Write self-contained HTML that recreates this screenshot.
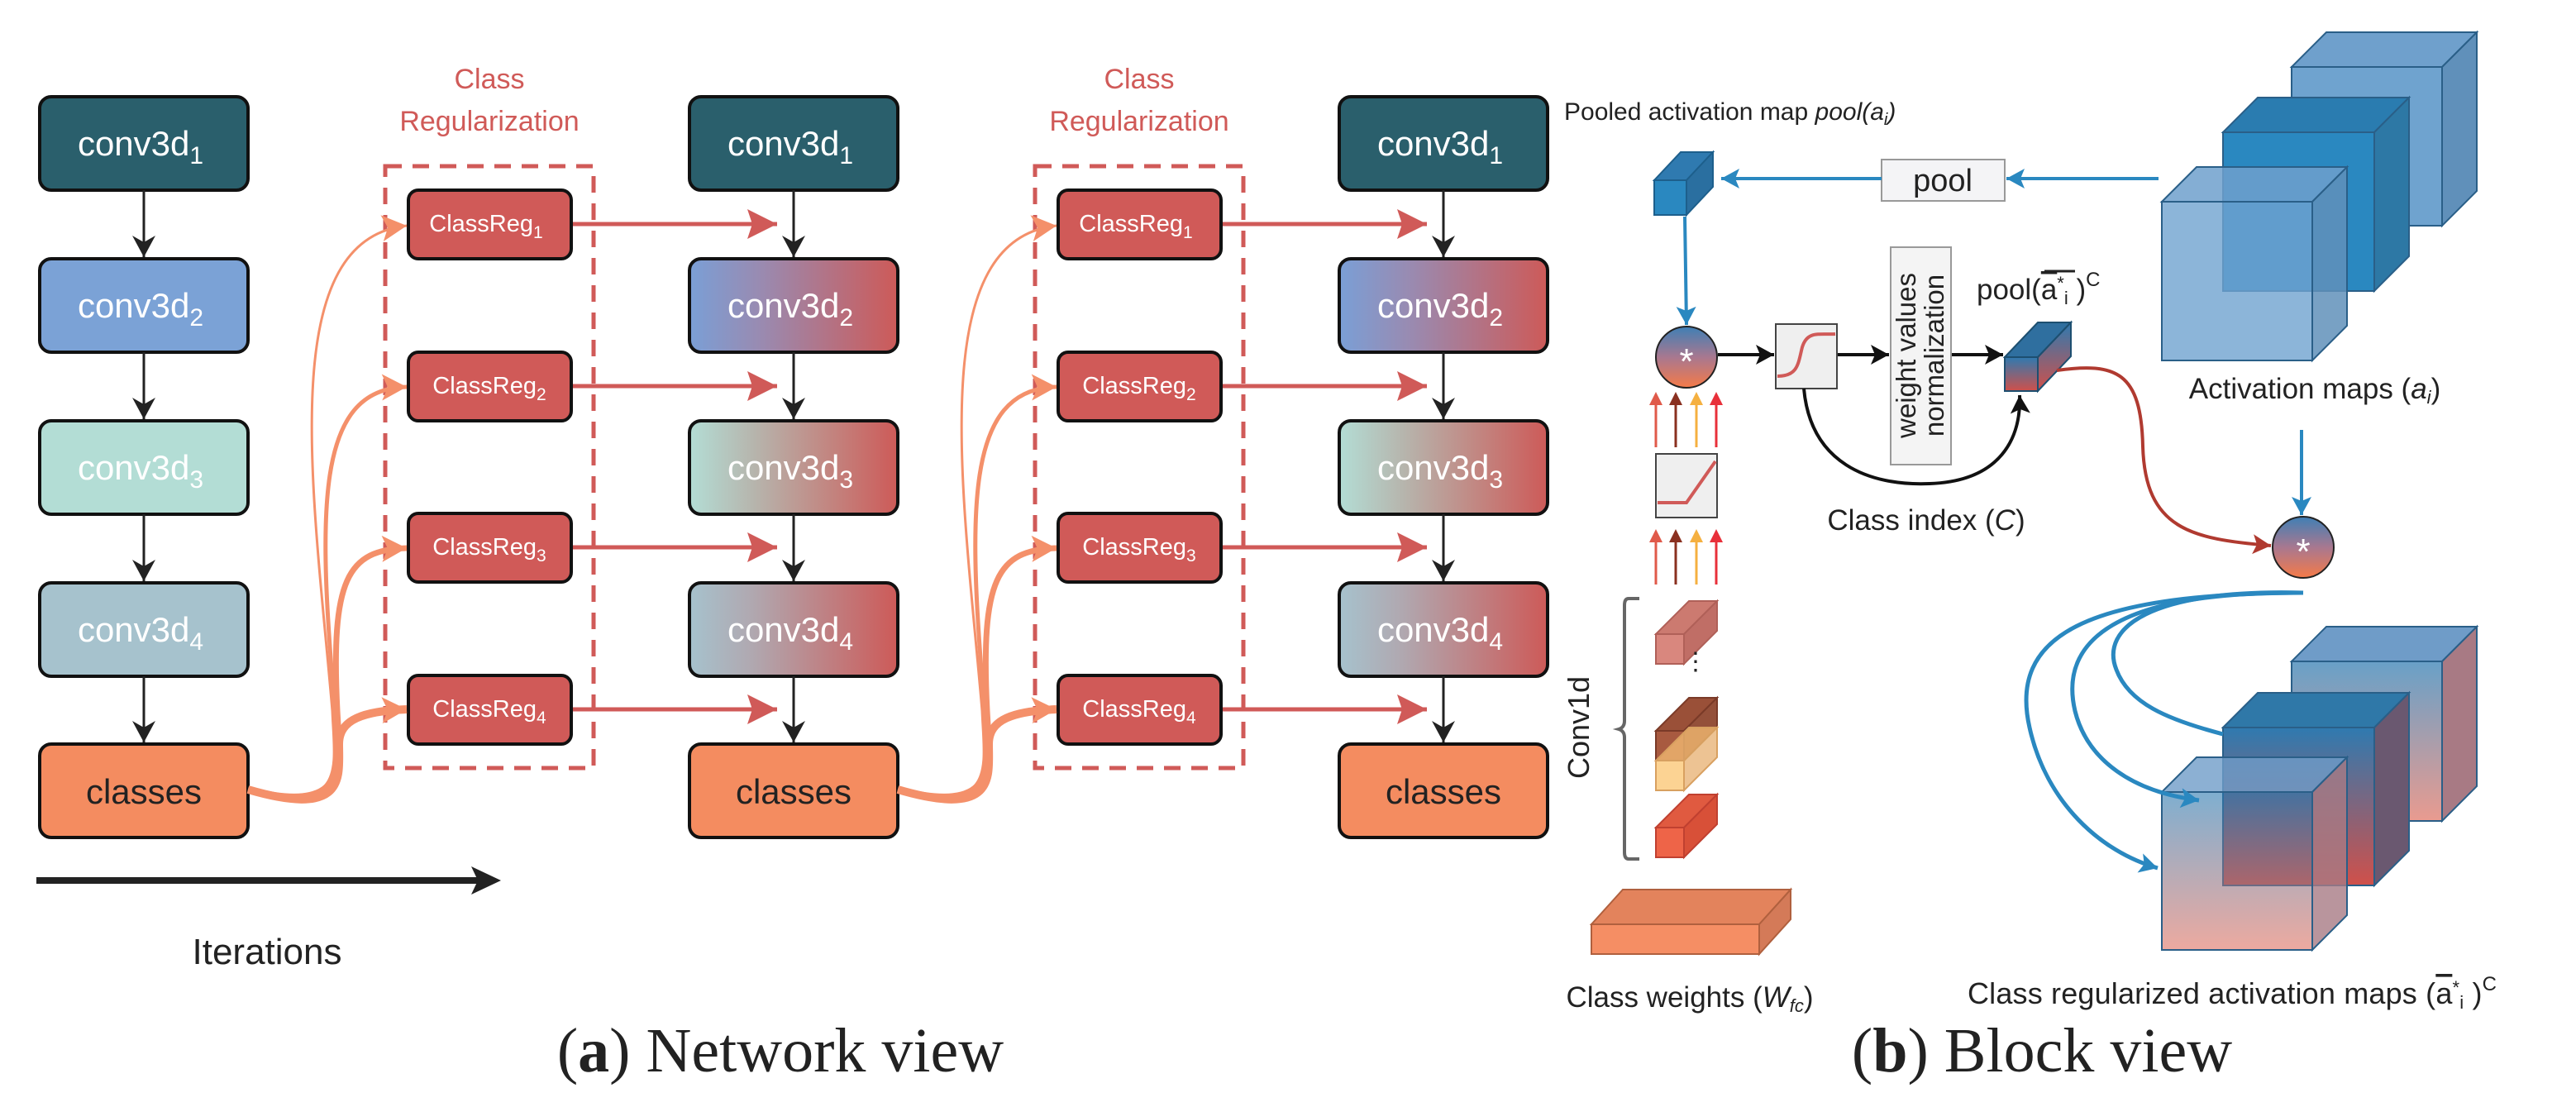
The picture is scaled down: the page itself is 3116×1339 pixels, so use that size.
<!DOCTYPE html>
<html><head><meta charset="utf-8"><style>
html,body{margin:0;padding:0;background:#fff;}
svg{display:block;}
text{font-family:"Liberation Sans",sans-serif;}
</style></head><body>
<svg width="3116" height="1339" viewBox="0 0 3116 1339" xmlns="http://www.w3.org/2000/svg">
<defs>
 <linearGradient id="g2" x1="0" x2="1" y1="0" y2="0"><stop offset="0" stop-color="#7a9fd6"/><stop offset="0.35" stop-color="#9a8ab0"/><stop offset="1" stop-color="#cd5a58"/></linearGradient>
 <linearGradient id="g3" x1="0" x2="1" y1="0" y2="0"><stop offset="0" stop-color="#b3ddd5"/><stop offset="0.3" stop-color="#b6b6ae"/><stop offset="1" stop-color="#cd5a58"/></linearGradient>
 <linearGradient id="g4" x1="0" x2="1" y1="0" y2="0"><stop offset="0" stop-color="#a6c2cd"/><stop offset="0.3" stop-color="#b0a8b0"/><stop offset="1" stop-color="#cd5a58"/></linearGradient>
 <linearGradient id="gc" x1="0" x2="0" y1="0" y2="1"><stop offset="0" stop-color="#3f7fb5"/><stop offset="0.5" stop-color="#a87890"/><stop offset="1" stop-color="#f57a48"/></linearGradient>
 <linearGradient id="gcube" x1="0" x2="0" y1="0" y2="1"><stop offset="0" stop-color="#2f7ab0"/><stop offset="1" stop-color="#d0504a"/></linearGradient>
 <linearGradient id="gbig" x1="0" x2="0" y1="0" y2="1"><stop offset="0" stop-color="#2878b0"/><stop offset="1" stop-color="#e07060"/></linearGradient>
 <marker id="mk" markerUnits="userSpaceOnUse" markerWidth="30" markerHeight="30" refX="26" refY="14" orient="auto"><path d="M0,0 L26,14 L0,28 L8,14 Z" fill="#222"/></marker>
 <marker id="mr" markerUnits="userSpaceOnUse" markerWidth="40" markerHeight="40" refX="36" refY="18" orient="auto"><path d="M0,0 L36,18 L0,36 L6,18 Z" fill="#d05a58"/></marker>
 <marker id="mo" markerUnits="userSpaceOnUse" markerWidth="40" markerHeight="40" refX="30" refY="16" orient="auto"><path d="M0,0 L30,16 L0,32 L7,16 Z" fill="#f4906a"/></marker>
 <marker id="mb" markerUnits="userSpaceOnUse" markerWidth="30" markerHeight="30" refX="22" refY="12" orient="auto"><path d="M0,0 L22,12 L0,24 L5,12 Z" fill="#2a88c0"/></marker>
 <marker id="mdr" markerUnits="userSpaceOnUse" markerWidth="30" markerHeight="30" refX="22" refY="12" orient="auto"><path d="M0,0 L22,12 L0,24 L5,12 Z" fill="#b03a30"/></marker>
 <marker id="mkb" markerUnits="userSpaceOnUse" markerWidth="30" markerHeight="30" refX="22" refY="12" orient="auto"><path d="M0,0 L22,12 L0,24 L5,12 Z" fill="#111"/></marker>
</defs>

<g stroke="#111" stroke-width="4">
 <rect x="48" y="117" width="252" height="113" rx="14" fill="#2a5f6c"/>
 <rect x="48" y="313" width="252" height="113" rx="14" fill="#7ba2d6"/>
 <rect x="48" y="509" width="252" height="113" rx="14" fill="#b3ddd5"/>
 <rect x="48" y="705" width="252" height="113" rx="14" fill="#a6c2cd"/>
 <rect x="48" y="900" width="252" height="113" rx="14" fill="#f48c60"/>
 <rect x="834" y="117" width="252" height="113" rx="14" fill="#2a5f6c"/>
 <rect x="834" y="313" width="252" height="113" rx="14" fill="url(#g2)"/>
 <rect x="834" y="509" width="252" height="113" rx="14" fill="url(#g3)"/>
 <rect x="834" y="705" width="252" height="113" rx="14" fill="url(#g4)"/>
 <rect x="834" y="900" width="252" height="113" rx="14" fill="#f48c60"/>
 <rect x="1620" y="117" width="252" height="113" rx="14" fill="#2a5f6c"/>
 <rect x="1620" y="313" width="252" height="113" rx="14" fill="url(#g2)"/>
 <rect x="1620" y="509" width="252" height="113" rx="14" fill="url(#g3)"/>
 <rect x="1620" y="705" width="252" height="113" rx="14" fill="url(#g4)"/>
 <rect x="1620" y="900" width="252" height="113" rx="14" fill="#f48c60"/>
</g>
<g stroke="#222" stroke-width="3" marker-end="url(#mk)">
 <line x1="174" y1="230" x2="174" y2="311"/><line x1="174" y1="426" x2="174" y2="507"/><line x1="174" y1="622" x2="174" y2="703"/><line x1="174" y1="818" x2="174" y2="898"/>
 <line x1="960" y1="230" x2="960" y2="311"/><line x1="960" y1="426" x2="960" y2="507"/><line x1="960" y1="622" x2="960" y2="703"/><line x1="960" y1="818" x2="960" y2="898"/>
 <line x1="1746" y1="230" x2="1746" y2="311"/><line x1="1746" y1="426" x2="1746" y2="507"/><line x1="1746" y1="622" x2="1746" y2="703"/><line x1="1746" y1="818" x2="1746" y2="898"/>
</g>
<g font-size="42" fill="#fff" text-anchor="middle">
 <text x="170" y="188">conv3d<tspan font-size="30" dy="10">1</tspan></text>
 <text x="170" y="384">conv3d<tspan font-size="30" dy="10">2</tspan></text>
 <text x="170" y="580">conv3d<tspan font-size="30" dy="10">3</tspan></text>
 <text x="170" y="776">conv3d<tspan font-size="30" dy="10">4</tspan></text>
 <text x="174" y="972" fill="#222">classes</text>
 <text x="956" y="188">conv3d<tspan font-size="30" dy="10">1</tspan></text>
 <text x="956" y="384">conv3d<tspan font-size="30" dy="10">2</tspan></text>
 <text x="956" y="580">conv3d<tspan font-size="30" dy="10">3</tspan></text>
 <text x="956" y="776">conv3d<tspan font-size="30" dy="10">4</tspan></text>
 <text x="960" y="972" fill="#222">classes</text>
 <text x="1742" y="188">conv3d<tspan font-size="30" dy="10">1</tspan></text>
 <text x="1742" y="384">conv3d<tspan font-size="30" dy="10">2</tspan></text>
 <text x="1742" y="580">conv3d<tspan font-size="30" dy="10">3</tspan></text>
 <text x="1742" y="776">conv3d<tspan font-size="30" dy="10">4</tspan></text>
 <text x="1746" y="972" fill="#222">classes</text>
</g>

<g id="cr">
 <text x="592" y="107" font-size="34" fill="#d05a58" text-anchor="middle">Class</text>
 <text x="592" y="158" font-size="34" fill="#d05a58" text-anchor="middle">Regularization</text>
 <rect x="466" y="201" width="252" height="728" fill="none" stroke="#d05a58" stroke-width="5" stroke-dasharray="20,13"/>
 <g stroke="#d05a58" stroke-width="5" marker-end="url(#mr)">
  <line x1="690" y1="271" x2="940" y2="271"/>
  <line x1="690" y1="467" x2="940" y2="467"/>
  <line x1="690" y1="662" x2="940" y2="662"/>
  <line x1="690" y1="858" x2="940" y2="858"/>
 </g>
 <g stroke="#111" stroke-width="4" fill="#d05a58">
  <rect x="494" y="230" width="197" height="83" rx="12"/>
  <rect x="494" y="426" width="197" height="83" rx="12"/>
  <rect x="494" y="621" width="197" height="83" rx="12"/>
  <rect x="494" y="817" width="197" height="83" rx="12"/>
 </g>
 <g font-size="29" fill="#fff" text-anchor="middle">
  <text x="588" y="280">ClassReg<tspan font-size="21" dy="8">1</tspan></text>
  <text x="592" y="476">ClassReg<tspan font-size="21" dy="8">2</tspan></text>
  <text x="592" y="671">ClassReg<tspan font-size="21" dy="8">3</tspan></text>
  <text x="592" y="867">ClassReg<tspan font-size="21" dy="8">4</tspan></text>
 </g>
 <g fill="none" stroke="#f4906a">
  <path d="M300,955 C420,985 405,930 402,860 C380,600 330,290 492,273" stroke-width="3" marker-end="url(#mo)"/>
  <path d="M300,955 C420,985 408,930 405,860 C385,620 380,470 492,468" stroke-width="5" marker-end="url(#mo)"/>
  <path d="M300,955 C420,985 412,930 408,860 C400,700 420,665 492,663" stroke-width="7" marker-end="url(#mo)"/>
  <path d="M300,955 C420,990 410,940 410,900 C410,870 440,860 492,858" stroke-width="10" marker-end="url(#mo)"/>
 </g>
</g>
<use href="#cr" transform="translate(786,0)"/>

<line x1="44" y1="1065" x2="580" y2="1065" stroke="#222" stroke-width="8"/>
<path d="M570,1048 L606,1065 L570,1082 L578,1065 Z" fill="#222"/>
<text x="323" y="1166" font-size="44" fill="#222" text-anchor="middle">Iterations</text>

<g font-size="76" fill="#222" text-anchor="middle">
 <text x="944" y="1296" style="font-family:'Liberation Serif',serif">(<tspan font-weight="bold">a</tspan>) Network view</text>
 <text x="2470" y="1296" style="font-family:'Liberation Serif',serif">(<tspan font-weight="bold">b</tspan>) Block view</text>
</g>

<text x="1892" y="145" font-size="30" fill="#222">Pooled activation map <tspan font-style="italic">pool(a<tspan font-size="20" dy="6">i</tspan><tspan dy="-6">)</tspan></tspan></text>
<g stroke="#1d5f8c" stroke-width="2">
 <polygon points="2001,218 2033,184 2072,184 2040,218" fill="#2f7ab0"/>
 <polygon points="2040,218 2072,184 2072,226 2040,260" fill="#2a6fa0"/>
 <rect x="2001" y="218" width="39" height="42" fill="#2a88c0"/>
</g>
<rect x="2276" y="193" width="149" height="50" fill="#f4f4f6" stroke="#999" stroke-width="2"/>
<text x="2350" y="231" font-size="38" fill="#222" text-anchor="middle">pool</text>
<g stroke="#2a88c0" stroke-width="4" fill="none" marker-end="url(#mb)">
 <line x1="2611" y1="216" x2="2427" y2="216"/>
 <line x1="2276" y1="216" x2="2082" y2="216"/>
 <line x1="2038" y1="262" x2="2040" y2="393"/>
 <line x1="2784" y1="520" x2="2784" y2="623"/>
</g>
<g stroke="#2a5f88" stroke-width="2">
 <polygon points="2772,81 2814,39 2996,39 2954,81" fill="#6fa0cc"/>
 <polygon points="2954,81 2996,39 2996,231 2954,273" fill="#6090ba"/>
 <rect x="2772" y="81" width="182" height="192" fill="#6fa3cf"/>
 <polygon points="2689,160 2731,118 2914,118 2872,160" fill="#2a7cb0"/>
 <polygon points="2872,160 2914,118 2914,310 2872,352" fill="#2d78a5"/>
 <rect x="2689" y="160" width="183" height="192" fill="#2a88c0"/>
 <polygon points="2615,244 2657,202 2839,202 2797,244" fill="#6fa0cc" fill-opacity="0.85"/>
 <polygon points="2797,244 2839,202 2839,394 2797,436" fill="#6090ba" fill-opacity="0.85"/>
 <rect x="2615" y="244" width="182" height="192" fill="#6fa3cf" fill-opacity="0.8"/>
</g>
<text x="2800" y="482" font-size="35" fill="#222" text-anchor="middle">Activation maps (<tspan font-style="italic">a<tspan font-size="22" dy="6">i</tspan></tspan><tspan dy="-6">)</tspan></text>
<circle cx="2040" cy="432" r="37" fill="url(#gc)" stroke="#222" stroke-width="2"/>
<text x="2040" y="452" font-size="44" fill="#fff" text-anchor="middle">*</text>
<g stroke="#111" stroke-width="4" marker-end="url(#mkb)">
 <line x1="2078" y1="429" x2="2146" y2="429"/>
 <line x1="2222" y1="429" x2="2285" y2="429"/>
 <line x1="2360" y1="429" x2="2423" y2="429"/>
</g>
<rect x="2148" y="392" width="74" height="78" fill="#efefef" stroke="#444" stroke-width="2"/>
<path d="M2150,455 C2175,455 2175,440 2180,420 C2186,400 2200,405 2220,404" fill="none" stroke="#d05a58" stroke-width="4"/>
<rect x="2287" y="299" width="73" height="263" fill="#f4f4f4" stroke="#999" stroke-width="2"/>
<g font-size="33" fill="#222" text-anchor="middle">
 <text transform="translate(2317,430) rotate(-90)">weight values</text>
 <text transform="translate(2351,430) rotate(-90)">normalization</text>
</g>
<text x="2391" y="362" font-size="35" fill="#222">pool(<tspan text-decoration="overline">a</tspan><tspan font-size="22" dy="-12">*</tspan><tspan font-size="22" dy="18">i</tspan><tspan dy="-6"> )</tspan><tspan font-size="24" dy="-16">C</tspan></text>
<line x1="2473" y1="328" x2="2510" y2="328" stroke="#222" stroke-width="3"/>
<g stroke="#1d4f70" stroke-width="2">
 <polygon points="2425,432 2465,390 2505,390 2465,432" fill="#2f6f9f"/>
 <polygon points="2465,432 2505,390 2505,431 2465,473" fill="url(#gcube)"/>
 <rect x="2425" y="432" width="40" height="41" fill="url(#gcube)"/>
</g>
<path d="M2182,470 C2190,560 2260,588 2334,585 C2420,582 2445,530 2443,478" fill="none" stroke="#111" stroke-width="4" marker-end="url(#mkb)"/>
<text x="2330" y="641" font-size="35" fill="#222" text-anchor="middle">Class index (<tspan font-style="italic">C</tspan>)</text>
<path d="M2488,448 C2560,438 2590,450 2592,540 C2595,640 2650,652 2747,660" fill="none" stroke="#b03a30" stroke-width="4" marker-end="url(#mdr)"/>
<circle cx="2786" cy="662" r="37" fill="url(#gc)" stroke="#222" stroke-width="2"/>
<text x="2786" y="682" font-size="44" fill="#fff" text-anchor="middle">*</text>
<rect x="2003" y="549" width="74" height="77" fill="#efefef" stroke="#444" stroke-width="2"/>
<path d="M2005,608 L2040,608 L2075,558" fill="none" stroke="#d05a58" stroke-width="4"/>
<g stroke-width="3">
 <g><line x1="2003" y1="541" x2="2003" y2="482" stroke="#e05a4a"/><path d="M1995,490 L2003,474 L2011,490Z" fill="#e05a4a"/>
 <line x1="2027" y1="541" x2="2027" y2="482" stroke="#8a3020"/><path d="M2019,490 L2027,474 L2035,490Z" fill="#8a3020"/>
 <line x1="2052" y1="541" x2="2052" y2="482" stroke="#f5b040"/><path d="M2044,490 L2052,474 L2060,490Z" fill="#f5b040"/>
 <line x1="2076" y1="541" x2="2076" y2="482" stroke="#e8303a"/><path d="M2068,490 L2076,474 L2084,490Z" fill="#e8303a"/></g>
 <g transform="translate(0,166)"><line x1="2003" y1="541" x2="2003" y2="482" stroke="#e05a4a"/><path d="M1995,490 L2003,474 L2011,490Z" fill="#e05a4a"/>
 <line x1="2027" y1="541" x2="2027" y2="482" stroke="#8a3020"/><path d="M2019,490 L2027,474 L2035,490Z" fill="#8a3020"/>
 <line x1="2052" y1="541" x2="2052" y2="482" stroke="#f5b040"/><path d="M2044,490 L2052,474 L2060,490Z" fill="#f5b040"/>
 <line x1="2076" y1="541" x2="2076" y2="482" stroke="#e8303a"/><path d="M2068,490 L2076,474 L2084,490Z" fill="#e8303a"/></g>
</g>
<path d="M1983,724 L1970,724 Q1965,724 1965,732 L1965,872 Q1965,880 1958,882 Q1965,884 1965,892 L1965,1031 Q1965,1039 1970,1039 L1983,1039" fill="none" stroke="#666" stroke-width="4"/>
<text transform="translate(1922,880) rotate(-90)" font-size="36" fill="#222" text-anchor="middle">Conv1d</text>
<g stroke-width="2">
 <g stroke="#b06058"><polygon points="2003,767 2043,727 2077,727 2037,767" fill="#cc7a70"/><polygon points="2037,767 2077,727 2077,763 2037,803" fill="#c06e66"/><rect x="2003" y="767" width="34" height="36" fill="#d9877e"/></g>
 <g stroke="#7a3a28"><polygon points="2003,884 2043,844 2077,844 2037,884" fill="#9a5038"/><polygon points="2037,884 2077,844 2077,880 2037,920" fill="#94503a"/><rect x="2003" y="884" width="34" height="36" fill="#a85a40"/></g>
 <g stroke="#d8a060" fill-opacity="0.8"><polygon points="2003,920 2043,880 2077,880 2037,920" fill="#f0b870"/><polygon points="2037,920 2077,880 2077,916 2037,956" fill="#e8b478"/><rect x="2003" y="920" width="34" height="36" fill="#fbc878"/></g>
 <g stroke="#c04030"><polygon points="2003,1001 2043,961 2077,961 2037,1001" fill="#e05a40"/><polygon points="2037,1001 2077,961 2077,997 2037,1037" fill="#d85038"/><rect x="2003" y="1001" width="34" height="36" fill="#ee6448"/></g>
</g>
<text x="2036" y="810" font-size="30" fill="#222">⋮</text>
<g stroke="#b0603e" stroke-width="2">
 <polygon points="1925,1118 1963,1076 2166,1076 2128,1118" fill="#e3835c"/>
 <polygon points="2128,1118 2166,1076 2166,1112 2128,1154" fill="#d47a58"/>
 <rect x="1925" y="1118" width="203" height="36" fill="#f58e64"/>
</g>
<text x="2044" y="1218" font-size="35" fill="#222" text-anchor="middle">Class weights (<tspan font-style="italic">W<tspan font-size="22" dy="6">fc</tspan></tspan><tspan dy="-6">)</tspan></text>
<g stroke="#2a5f88" stroke-width="2">
 <polygon points="2772,800 2814,758 2996,758 2954,800" fill="#6f9cc8"/>
 <polygon points="2954,800 2996,758 2996,951 2954,993" fill="#a87a84"/>
 <rect x="2772" y="800" width="182" height="193" fill="url(#gbig)" fill-opacity="0.7"/>
 <polygon points="2689,880 2731,838 2914,838 2872,880" fill="#2f78a8"/>
 <polygon points="2872,880 2914,838 2914,1029 2872,1071" fill="#6a5870"/>
 <rect x="2689" y="880" width="183" height="191" fill="url(#gcube)"/>
 <polygon points="2615,958 2657,916 2839,916 2797,958" fill="#6f9cc8" fill-opacity="0.8"/>
 <polygon points="2797,958 2839,916 2839,1107 2797,1149" fill="#a87a84" fill-opacity="0.8"/>
 <rect x="2615" y="958" width="182" height="191" fill="url(#gbig)" fill-opacity="0.6"/>
</g>
<g fill="none" stroke="#2a88c0" stroke-width="5">
 <path d="M2786,717 C2600,712 2540,760 2560,810 C2575,850 2620,870 2689,888"/>
 <path d="M2786,717 C2560,715 2490,775 2510,860 C2525,920 2580,958 2660,968" marker-end="url(#mb)"/>
 <path d="M2786,717 C2520,718 2430,770 2455,880 C2475,970 2540,1030 2610,1050" marker-end="url(#mb)"/>
</g>
<text x="2380" y="1214" font-size="36" fill="#222" textLength="640">Class regularized activation maps (<tspan text-decoration="overline">a</tspan><tspan font-size="22" dy="-12">*</tspan><tspan font-size="22" dy="18">i</tspan><tspan dy="-6"> )</tspan><tspan font-size="24" dy="-16">C</tspan></text>
</svg>
</body></html>
